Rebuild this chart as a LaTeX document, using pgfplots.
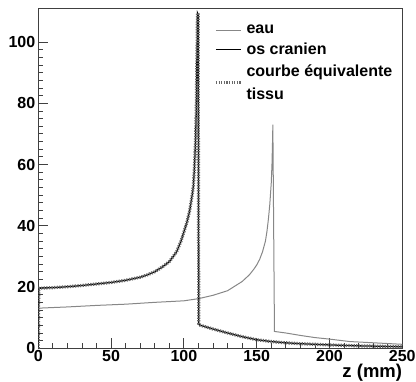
\documentclass[border=0pt]{standalone}
\usepackage{pgfplots}
\pgfplotsset{compat=1.18}
\usepackage{fontspec}
\setmainfont{Liberation Sans}
\definecolor{eaucol}{RGB}{135,135,135}
\definecolor{tiscol}{RGB}{105,105,105}
\begin{document}
\begin{tikzpicture}
\useasboundingbox (-38.3pt,-33.7pt) rectangle (377.7pt,348.3pt);
\begin{axis}[
  scale only axis, width=364pt, height=340pt,
  at={(0,0)}, anchor=south west,
  xmin=0, xmax=250, ymin=0, ymax=111,
  xtick={0,50,...,250}, ytick={0,20,...,100},
  minor x tick num=4, minor y tick num=7,
  tick pos=left, tick align=inside,
  major tick length=10pt, minor tick length=5pt,
  axis line style={black!75, line width=0.9pt},
  every tick/.style={black!75, line width=0.8pt},
  /pgf/number format/assume math mode=true,
  ticklabel style={font=\fontsize{16}{18}\selectfont\bfseries},
  xticklabel style={yshift=1pt},
  yticklabel style={xshift=0.5pt},
  xlabel={z (mm)},
  xlabel style={font=\fontsize{18.5}{20}\selectfont\bfseries, at={(rel axis cs:1,0)}, anchor=north east, inner sep=0pt, yshift=-15.5pt},
  legend style={draw=none, fill=none, at={(rel axis cs:0.483,0.957)}, anchor=north west,
    font=\fontsize{16}{19}\selectfont\bfseries, cells={align=left}, row sep=4pt, column sep=2pt, inner sep=0pt},
  legend cell align=left,
  legend image code/.code={\draw[#1] (0pt,0pt) -- (25pt,0pt);},
]
\addplot[eaucol, line width=1pt] coordinates {
(0,13.1) (20,13.5) (40,14) (60,14.4) (80,15) (100,15.5) (110,16.2) (120,17.3) (130,18.8)
(140,21.8) (145,24) (148,25.8) (150,27.2) (152,29) (154,31.5) (156,35) (157,38) (158,42) (159,47) (160,54)
(160.5,60) (160.9,68) (161.1,73) (162.2,5.5) (170,5) (180,4.2) (190,3.5) (200,3) (214,2.2)
(230,1.8) (250,1.3)};
\addlegendentry{eau}
\addplot[black, line width=1.3pt] coordinates {
(0,0) (0.3,19.6) (10,19.8) (20,20.1) (30,20.5) (40,21) (50,21.5) (60,22.2) (70,23.2) (75,24)
(80,25) (85,26.5) (90,28.3) (95,31.5) (98,35) (100,38) (102,41) (104,45) (105,48) (106,51)
(106.5,53) (107,57) (107.5,62) (108,68) (108.5,78) (108.8,90) (109.1,100) (109.3,109.5)
(109.8,109) (110.2,8) (110.7,7.6) (120,6.3) (130,5) (140,3.8) (150,2.8) (160,2.2) (170,1.8)
(180,1.5) (200,1.1) (220,0.8) (250,0.5)};
\addlegendentry{os cranien}
\addplot[tiscol, line width=3.2pt, dash pattern=on 1.3pt off 1.3pt] coordinates {
(0,0) (0.3,19.6) (10,19.8) (20,20.1) (30,20.5) (40,21) (50,21.5) (60,22.2) (70,23.2) (75,24)
(80,25) (85,26.5) (90,28.3) (95,31.5) (98,35) (100,38) (102,41) (104,45) (105,48) (106,51)
(106.5,53) (107,57) (107.5,62) (108,68) (108.5,78) (108.8,90) (109.1,100) (109.3,109.5)
(109.8,109) (110.2,8) (110.7,7.6) (120,6.3) (130,5) (140,3.8) (150,2.8) (160,2.2) (170,1.8)
(180,1.5) (200,1.1) (220,0.8) (250,0.5)};
\addlegendentry{courbe équivalente\\[4pt]tissu}
\end{axis}
\end{tikzpicture}
\end{document}
